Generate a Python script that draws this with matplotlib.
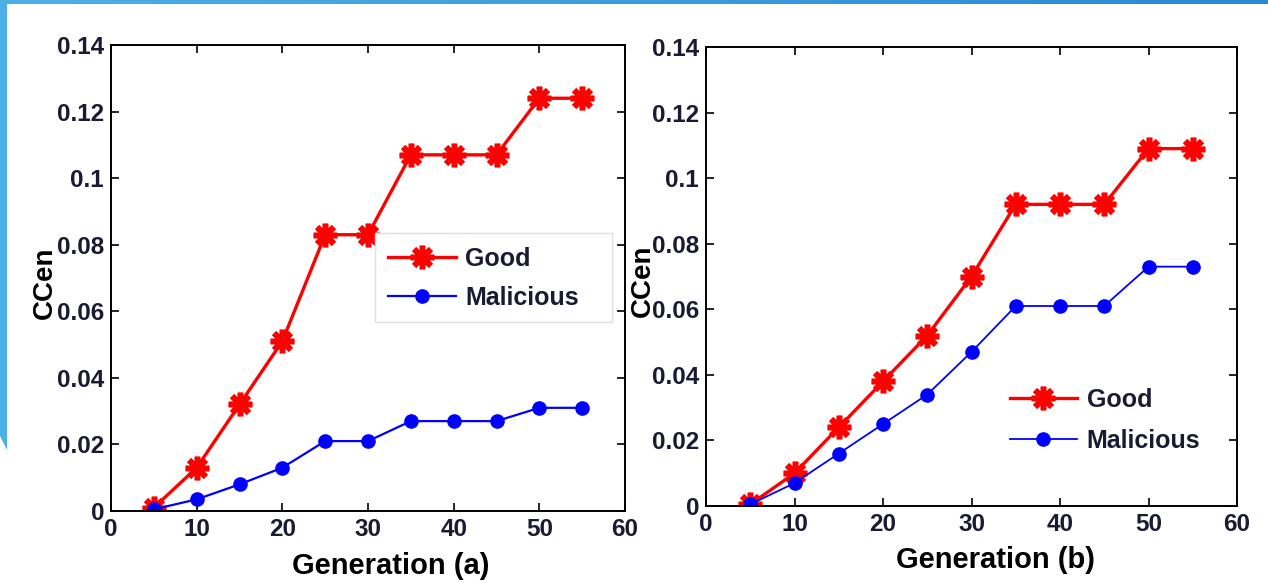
import numpy as np
import matplotlib
matplotlib.use("Agg")
import matplotlib.pyplot as plt
from matplotlib.patches import Polygon, Rectangle
from matplotlib.colors import LinearSegmentedColormap

plt.rcParams['font.family'] = ['Liberation Sans', 'DejaVu Sans']

generation = [5, 10, 15, 20, 25, 30, 35, 40, 45, 50, 55]

good_a = [0.001, 0.013, 0.032, 0.051, 0.083, 0.083, 0.107, 0.107, 0.107, 0.124, 0.124]
malicious_a = [0.0005, 0.0035, 0.008, 0.013, 0.021, 0.021, 0.027, 0.027, 0.027, 0.031, 0.031]

good_b = [0.0005, 0.010, 0.024, 0.038, 0.052, 0.070, 0.092, 0.092, 0.092, 0.109, 0.109]
malicious_b = [0.0005, 0.007, 0.016, 0.025, 0.034, 0.047, 0.061, 0.061, 0.061, 0.073, 0.073]

xticks = [0, 10, 20, 30, 40, 50, 60]
yticks = [0, 0.02, 0.04, 0.06, 0.08, 0.1, 0.12, 0.14]
ytick_labels = ['0', '0.02', '0.04', '0.06', '0.08', '0.1', '0.12', '0.14']
series_labels = ['Good', 'Malicious']
xlabels = ['Generation (a)', 'Generation (b)']
ylabel = 'CCen'

W, H = 1268, 583
fig = plt.figure(figsize=(W / 100, H / 100), dpi=100)

# decorative slide border
grad_ax = fig.add_axes([0, 1 - 4 / H, 1, 4 / H])
grad = np.linspace(0, 1, 256).reshape(1, -1)
cmap = LinearSegmentedColormap.from_list('b', ['#4cb0e6', '#2a8ad0'])
grad_ax.imshow(grad, aspect='auto', cmap=cmap)
grad_ax.axis('off')
fig.patches.append(Polygon([[0, 1], [7 / W, 1], [7 / W, 1 - 450 / H], [0, 1 - 436 / H]],
                           closed=True, transform=fig.transFigure,
                           facecolor='#4cb0e6', edgecolor='none', zorder=0))

axes_rects = [
    [111 / W, 1 - 511 / H, (625 - 111) / W, (511 - 45) / H],
    [706 / W, 1 - 506 / H, (1237 - 706) / W, (506 - 47) / H],
]
datasets = [(good_a, malicious_a), (good_b, malicious_b)]
legend_anchor = [(0.539, 0.5665), (0.572, 0.257)]
legend_spacing = [0.6, 0.66]

for i, (rect, (g, m)) in enumerate(zip(axes_rects, datasets)):
    ax = fig.add_axes(rect)
    ax.plot(generation, g, color='#ff0000', lw=2.4, marker=(8, 2, 0), ms=17, mew=4,
            label=series_labels[0])
    ax.plot(generation, m, color='#0000ff', lw=1.3 if i == 1 else 1.6, marker='o', ms=9.5,
            label=series_labels[1])
    ax.set_xlim(0, 60)
    ax.set_ylim(0, 0.14)
    ax.set_xticks(xticks)
    ax.set_yticks(yticks)
    ax.set_yticklabels(ytick_labels)
    ax.tick_params(direction='in', length=6, width=1.2, top=True, right=True,
                   labelsize=17.5, pad=5)
    for lab in ax.get_xticklabels() + ax.get_yticklabels():
        lab.set_fontweight('bold')
        lab.set_color('#1a1a33')
    for s in ax.spines.values():
        s.set_linewidth(1.4)
    ax.set_xlabel(xlabels[i], fontsize=21, fontweight='bold', labelpad=0)
    ax.set_ylabel(ylabel, fontsize=20, fontweight='bold', labelpad=2)
    ax.xaxis.set_label_coords(0.545, -0.088)
    ax.yaxis.set_label_coords(-0.104 if i == 0 else -0.094, 0.49)
    if i == 0:
        ax.add_patch(Rectangle((0.5136, 0.4056), 0.461, 0.191, transform=ax.transAxes,
                               facecolor='white', edgecolor='#e0e0e0', lw=1.0, zorder=4))
    leg = ax.legend(loc='upper left', bbox_to_anchor=legend_anchor[i], fontsize=18,
                    frameon=False, handlelength=2.7, borderpad=0,
                    labelspacing=legend_spacing[i], handletextpad=0.38, borderaxespad=0)
    leg.set_zorder(5)
    for t in leg.get_texts():
        t.set_fontweight('bold')
        t.set_color('#1a1a33')

fig.savefig('out.png', dpi=100)
